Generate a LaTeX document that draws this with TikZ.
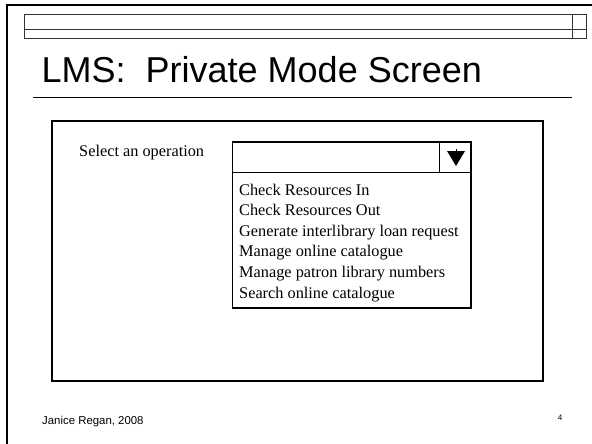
\documentclass[tikz,border=0pt]{standalone}
\usepackage{fontspec}
\setmainfont{Liberation Serif}
\newfontfamily\helv{Liberation Sans}
\begin{document}
\begin{tikzpicture}[x=1pt,y=-1pt,
  frameline/.style={line width=2pt,black},
  barline/.style={line width=1pt,black!80},
  boxline/.style={line width=1.4pt,black},
  ddline/.style={line width=1.2pt,black},
  titletxt/.style={inner sep=0pt,anchor=base west,font=\helv\fontsize{36}{40}\selectfont},
  formtxt/.style={inner sep=0pt,anchor=base west,font=\fontsize{16.3}{19}\selectfont},
  foottxt/.style={inner sep=0pt,anchor=base west,font=\helv\fontsize{11.4}{13}\selectfont}]
\useasboundingbox[fill=white] (0,0) rectangle (592,444);
% slide frame
\draw[frameline] (7,444) -- (7,5) -- (592,5);
% top bar
\draw[barline] (24,15) rectangle (586.5,39);
\draw[barline] (24,30) -- (586.5,30);
\draw[barline] (572,15) -- (572,39);
% title
\node[titletxt] (title) at (41.5,83) {LMS:\ \ Private Mode Screen};
\draw[line width=1pt] (33,97.5) -- (572,97.5);
% main box
\draw[boxline] (52,121) rectangle (543,381);
\node[formtxt] (sel) at (79,156) {Select an operation};
% dropdown
\draw[ddline] (232.5,142) rectangle (471,308);
\draw[ddline] (232.5,172.5) -- (471,172.5);
\draw[ddline] (439.5,142) -- (439.5,172.5);
\fill (447,151) -- (465,151) -- (456,166) -- cycle;
\draw[line width=1pt] (456,149) -- (456,152);
\node[formtxt] (o1) at (239,195) {Check Resources In};
\node[formtxt] (o2) at (239,215.6) {Check Resources Out};
\node[formtxt] (o3) at (239,236.2) {Generate interlibrary loan request};
\node[formtxt] (o4) at (239,256.8) {Manage online catalogue};
\node[formtxt] (o5) at (239,277.4) {Manage patron library numbers};
\node[formtxt] (o6) at (239,298) {Search online catalogue};
% footer
\node[foottxt] (foot) at (42,424.5) {Janice Regan, 2008};
\node[inner sep=0pt,anchor=base,font=\helv\fontsize{8}{9}\selectfont] (pg) at (560,420) {4};
\end{tikzpicture}
\end{document}
